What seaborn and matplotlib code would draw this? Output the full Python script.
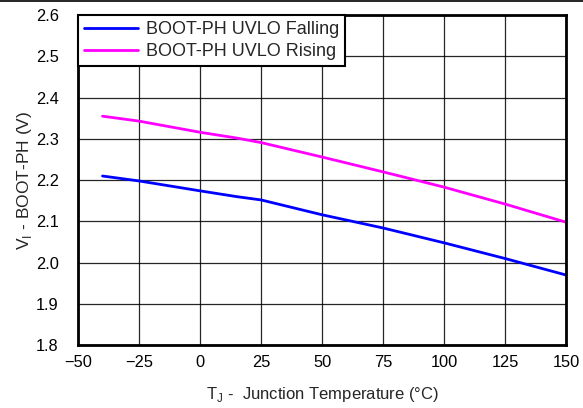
import matplotlib
matplotlib.use("Agg")
import matplotlib.pyplot as plt
import seaborn as sns
import pandas as pd
from matplotlib.lines import Line2D

# values
temp = [-40, -25, 0, 15, 25, 50, 75, 100, 125, 150]
uvlo_falling = [2.210, 2.198, 2.174, 2.160, 2.152, 2.116, 2.084, 2.048, 2.010, 1.970]
uvlo_rising = [2.355, 2.343, 2.316, 2.302, 2.291, 2.256, 2.220, 2.183, 2.142, 2.098]

x_ticks = [-50, -25, 0, 25, 50, 75, 100, 125, 150]
y_ticks = [1.8, 1.9, 2.0, 2.1, 2.2, 2.3, 2.4, 2.5, 2.6]

df = pd.DataFrame({
    'temp': temp * 2,
    'value': uvlo_falling + uvlo_rising,
    'series': ['BOOT-PH UVLO Falling'] * len(temp) + ['BOOT-PH UVLO Rising'] * len(temp),
})

sns.set_style("white")
plt.rcParams['font.family'] = ['Liberation Sans', 'DejaVu Sans']
plt.rcParams['mathtext.fontset'] = 'custom'
plt.rcParams['mathtext.rm'] = 'Liberation Sans'

fig = plt.figure(figsize=(5.83, 4.08), dpi=100)
ax = fig.add_axes([0.134, 0.154, 0.837, 0.809])

sns.lineplot(data=df, x='temp', y='value', hue='series',
             palette=['#0000ff', '#ff00ff'], linewidth=2, ax=ax)

ax.set_xlim(-50, 150)
ax.set_ylim(1.8, 2.6)
ax.set_xticks(x_ticks)
ax.set_yticks(y_ticks)
ax.set_yticklabels([f"{v:.1f}" for v in y_ticks])
ax.tick_params(length=0, labelsize=11.8, colors='black')
ax.tick_params(axis='y', pad=14)
ax.tick_params(axis='x', pad=7)
ax.grid(True, color='black', linewidth=0.9, alpha=0.85)
ax.set_axisbelow(True)
for s in ax.spines.values():
    s.set_color('black')
    s.set_linewidth(2)

ax.set_xlabel(r'T$_\mathregular{J}$ -  Junction Temperature (°C)', fontsize=12, labelpad=11)
ax.set_ylabel(r'V$_\mathregular{I}$ - BOOT-PH (V)', fontsize=12.5, labelpad=1)

leg = ax.legend(loc='upper left', borderaxespad=0, fontsize=13, frameon=True,
                fancybox=False, handlelength=3.0, handletextpad=0.45,
                borderpad=0.32, labelspacing=0.3)
leg.get_frame().set_edgecolor('black')
leg.get_frame().set_linewidth(1.5)
leg.get_frame().set_alpha(1)

# thin rule along the top edge of the picture
fig.add_artist(Line2D([0, 1], [0.998, 0.998], color='black', linewidth=1.2))

fig.savefig("out.png", dpi=100)
